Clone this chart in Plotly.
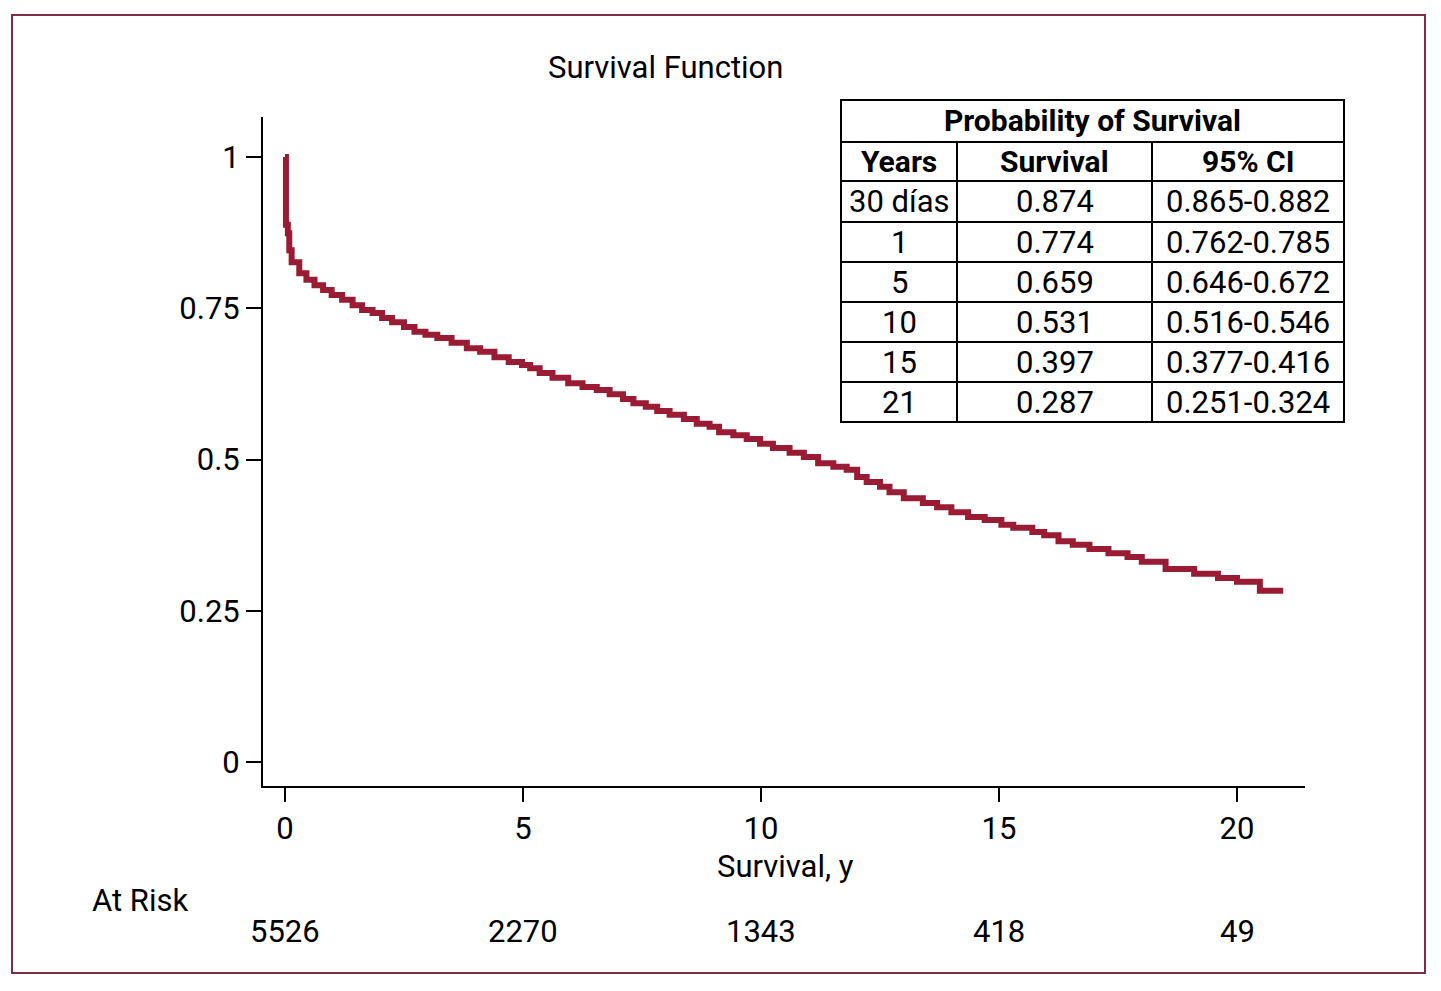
import plotly.graph_objects as go

# ---- data ----
times = [0, 0.02, 0.06, 0.09, 0.14, 0.3, 0.45, 0.62, 0.8, 0.98, 1.2, 1.42, 1.62, 1.84, 2.04,
         2.25, 2.5, 2.72, 2.95, 3.2, 3.5, 3.82, 4.1, 4.4, 4.7, 4.98, 5.15, 5.35, 5.62, 5.95,
         6.25, 6.55, 6.82, 7.1, 7.32, 7.58, 7.82, 8.08, 8.38, 8.65, 8.92, 9.12, 9.42, 9.7, 9.98,
         10.25, 10.6, 10.9, 11.2, 11.52, 11.8, 12.02, 12.22, 12.5, 12.7, 13.0, 13.4, 13.7, 14.0, 14.35,
         14.7, 15.05, 15.3, 15.7, 15.95, 16.25, 16.55, 16.9, 17.3, 17.7, 18.0, 18.5, 19.1, 19.6, 20.0,
         20.48, 20.97]
survival = [1.0, 0.888, 0.874, 0.846, 0.826, 0.808, 0.797, 0.788, 0.780, 0.772, 0.764, 0.755, 0.747, 0.742, 0.734,
            0.727, 0.719, 0.711, 0.706, 0.701, 0.693, 0.684, 0.678, 0.669, 0.661, 0.656, 0.651, 0.643, 0.635, 0.626,
            0.620, 0.615, 0.608, 0.600, 0.593, 0.587, 0.580, 0.574, 0.567, 0.559, 0.554, 0.545, 0.540, 0.534, 0.526,
            0.519, 0.511, 0.504, 0.494, 0.488, 0.483, 0.471, 0.463, 0.455, 0.446, 0.436, 0.428, 0.421, 0.413, 0.405,
            0.400, 0.392, 0.387, 0.380, 0.375, 0.365, 0.359, 0.352, 0.345, 0.339, 0.331, 0.319, 0.311, 0.304, 0.298,
            0.283, 0.283]

x_ticks = [0, 5, 10, 15, 20]
y_ticks = [0, 0.25, 0.5, 0.75, 1]
y_tick_labels = ["0", "0.25", "0.5", "0.75", "1"]
at_risk = ["5526", "2270", "1343", "418", "49"]

table_title = "Probability of Survival"
table_headers = ["Years", "Survival", "95% CI"]
table_years = ["30 días", "1", "5", "10", "15", "21"]
table_surv = ["0.874", "0.774", "0.659", "0.531", "0.397", "0.287"]
table_ci = ["0.865-0.882", "0.762-0.785", "0.646-0.672", "0.516-0.546", "0.377-0.416", "0.251-0.324"]

# ---- layout helpers (reference pixel -> paper) ----
W, H = 1441, 991
OFF = 8  # page body margin
L, R, T, B = 263, 1305, 117, 786
def px(X):
    return (X - L) / (R - L)
def py(Y):
    return (B - Y) / (B - T)

FONT = "Roboto, Liberation Sans Narrow, Arial, sans-serif"
FS = 31
FSB = 30
CURVE = "#9a1c34"
BORDER = "#7d2e42"

fig = go.Figure()
fig.add_trace(go.Scatter(x=times, y=survival, mode="lines", line_shape="hv",
                         line=dict(color=CURVE, width=6), showlegend=False, hoverinfo="skip"))

shapes = []
annotations = []

# outer border
shapes.append(dict(type="rect", xref="paper", yref="paper", x0=px(12), x1=px(1425), y0=py(973), y1=py(15),
                   line=dict(color=BORDER, width=2)))

# table grid
tx0, tx1 = 841, 1344
col_x = [841, 957, 1152, 1344]
row_y = [100, 142, 181, 222, 262, 302, 342, 382, 422]
shapes.append(dict(type="rect", xref="paper", yref="paper", x0=px(tx0), x1=px(tx1), y0=py(row_y[-1]), y1=py(row_y[0]),
                   line=dict(color="black", width=2), fillcolor="white", layer="above"))
for yy in row_y[1:-1]:
    shapes.append(dict(type="line", xref="paper", yref="paper", x0=px(tx0), x1=px(tx1), y0=py(yy), y1=py(yy),
                       line=dict(color="black", width=2), layer="above"))
for xx in col_x[1:-1]:
    shapes.append(dict(type="line", xref="paper", yref="paper", x0=px(xx), x1=px(xx), y0=py(row_y[1]), y1=py(row_y[-1]),
                       line=dict(color="black", width=2), layer="above"))

def ann(text, X, Y, size=FS, bold=False, xanchor="center"):
    annotations.append(dict(text=("<b>%s</b>" % text) if bold else text, xref="paper", yref="paper",
                            x=px(X), y=py(Y), xanchor=xanchor, yanchor="middle", showarrow=False,
                            font=dict(family=FONT, size=size, color="black")))

ann(table_title, (tx0 + tx1) / 2, 121, size=FSB, bold=True)
centers = [(col_x[i] + col_x[i + 1]) / 2 for i in range(3)]
for c, h in zip(centers, table_headers):
    ann(h, c, 161, size=FSB, bold=True)
for i in range(len(table_years)):
    yc = (row_y[i + 2] + row_y[i + 3]) / 2
    ann(table_years[i], centers[0], yc)
    ann(table_surv[i], centers[1], yc)
    ann(table_ci[i], centers[2], yc)

# titles
ann("Survival Function", 665, 67)
ann("Survival, y", 785, 866)
ann("At Risk", 140, 900)
for xv, n in zip(x_ticks, at_risk):
    annotations.append(dict(text=n, xref="x", yref="paper", x=xv, y=py(932), xanchor="center", yanchor="middle",
                            showarrow=False, font=dict(family=FONT, size=FS, color="black")))

x_lo = (L - 285) / 47.6
x_hi = (R - 285) / 47.6
y_lo = (762 - B) / 605
y_hi = (762 - T) / 605

fw, fh = W - 2 * OFF, H - 2 * OFF
fig.update_layout(
    width=fw, height=fh,
    margin=dict(l=L - OFF, r=fw - (R - OFF), t=T - OFF, b=fh - (B - OFF), pad=0),
    paper_bgcolor="white", plot_bgcolor="white",
    shapes=shapes, annotations=annotations,
    font=dict(family=FONT, size=FS, color="black"),
    xaxis=dict(range=[x_lo, x_hi], tickvals=x_ticks, ticktext=[str(v) for v in x_ticks],
               showline=True, linecolor="black", linewidth=2, ticks="outside", ticklen=14, tickwidth=2,
               tickcolor="black", showgrid=False, zeroline=False, tickfont=dict(family=FONT, size=FS)),
    yaxis=dict(range=[y_lo, y_hi], tickvals=y_ticks, ticktext=y_tick_labels,
               showline=True, linecolor="black", linewidth=2, ticks="outside", ticklen=15, tickwidth=2,
               tickcolor="black", showgrid=False, zeroline=False, tickfont=dict(family=FONT, size=FS)),
)

fig.write_html("out.html")
